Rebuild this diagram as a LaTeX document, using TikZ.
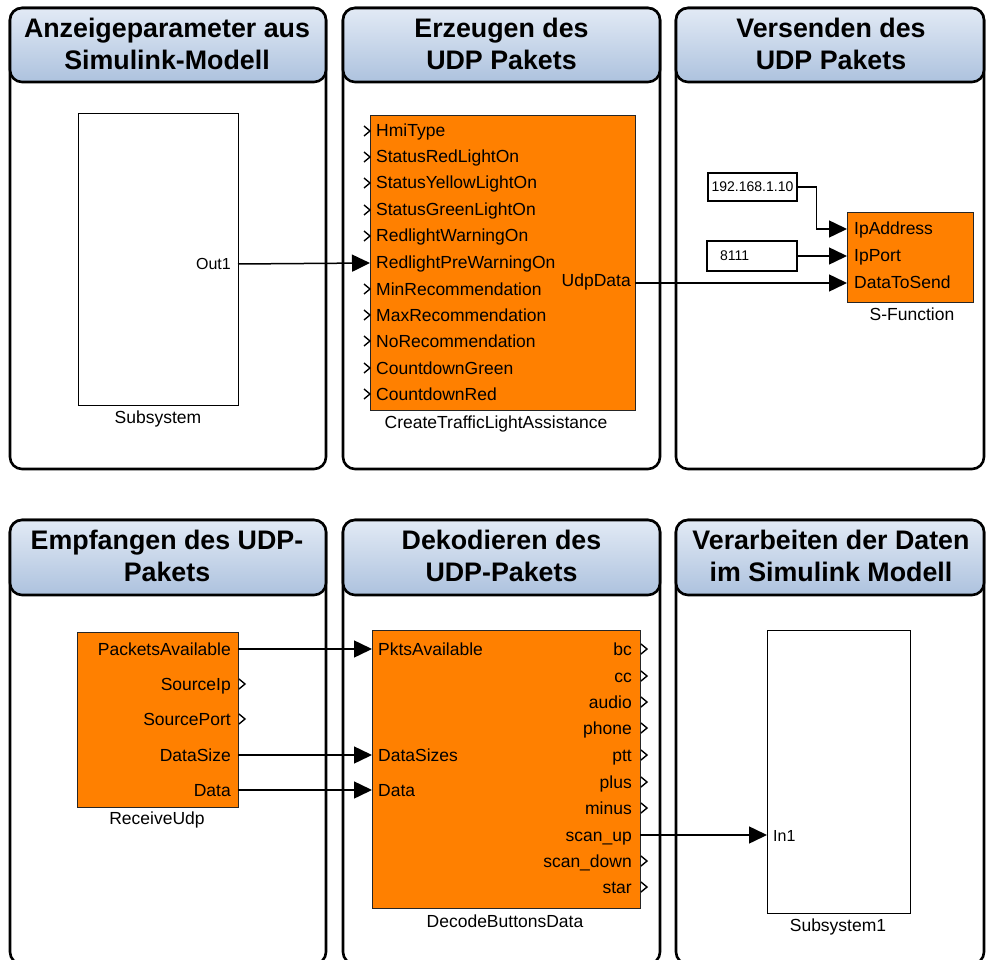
\documentclass[tikz,border=0pt]{standalone}
\usepackage{fontspec}
\setmainfont{Liberation Sans}
\usetikzlibrary{arrows.meta}

\definecolor{blockorange}{HTML}{FF8000}
\definecolor{hdrtop}{HTML}{E2EAF5}
\definecolor{hdrbot}{HTML}{ADC2DE}

\tikzset{
  panel/.style={draw=black, line width=2.6pt, rounded corners=12pt},
  header/.style={draw=black, line width=2.6pt, rounded corners=12pt,
                 top color=hdrtop, bottom color=hdrbot},
  hdrtext/.style={font=\fontsize{26.8}{32}\selectfont\bfseries, align=center, inner sep=0pt},
  sysblock/.style={draw=black, line width=1.3pt, fill=white, inner sep=0pt},
  fnblock/.style={draw=black!85, line width=1.3pt, fill=blockorange, inner sep=0pt},
  port/.style={font=\fontsize{17.5}{20}\selectfont, inner sep=0pt},
  smallport/.style={font=\fontsize{16}{18}\selectfont, inner sep=0pt},
  caption/.style={font=\fontsize{17.5}{20}\selectfont, inner sep=0pt, anchor=base},
  consttext/.style={font=\fontsize{14}{16}\selectfont, inner sep=0pt},
  sig/.style={line width=1.5pt, -{Triangle[length=18pt,width=17pt]}},
  openport/.style={line width=1.4pt},
}

\begin{document}
\begin{tikzpicture}[x=1pt,y=-1pt]
\clip (0,0) rectangle (986,960);

% ---- six panels with shaded title bars
\foreach \xa/\xb in {10/326,343/660,676/984}{
  \draw[panel]  (\xa,8) rectangle (\xb,469);
  \draw[header] (\xa,8) rectangle (\xb,82);
  \draw[panel]  (\xa,520) rectangle (\xb,964);
  \draw[header] (\xa,520) rectangle (\xb,595);
}
\node[hdrtext] (h1) at (167,44)   {Anzeigeparameter aus\\Simulink-Modell};
\node[hdrtext] (h2) at (501.5,44) {Erzeugen des\\UDP Pakets};
\node[hdrtext] (h3) at (831,44)   {Versenden des\\UDP Pakets};
\node[hdrtext] (h4) at (167,556)  {Empfangen des UDP-\\Pakets};
\node[hdrtext] (h5) at (501.5,556){Dekodieren des\\UDP-Pakets};
\node[hdrtext] (h6) at (831,556)  {Verarbeiten der Daten\\im Simulink Modell};

% ---- Subsystem (source of display parameters)
\node[sysblock, anchor=north west, minimum width=160pt, minimum height=292pt] (sub) at (78,113) {};
\coordinate (sub-out) at (238,264);
\node[smallport, anchor=base east] (sub-outlbl) at (231,270) {Out1};
\node[caption] (sub-cap) at (158,423) {Subsystem};

% ---- CreateTrafficLightAssistance
\node[fnblock, anchor=north west, minimum width=265pt, minimum height=295pt] (ctla) at (370,115) {};
\foreach \y/\t [count=\i] in {131/HmiType,157/StatusRedLightOn,183/StatusYellowLightOn,
    210/StatusGreenLightOn,236/RedlightWarningOn,263/RedlightPreWarningOn,289/MinRecommendation,
    315/MaxRecommendation,341/NoRecommendation,368/CountdownGreen,394/CountdownRed}{
  \coordinate (ctla-in\i) at (370,\y);
  \node[port, anchor=base west] (ctla-lbl\i) at (376,\y+6) {\t};
}
\foreach \i in {1,2,3,4,5,7,8,9,10,11}{
  \draw[openport] ([shift={(-6,-5)}]ctla-in\i) -- (ctla-in\i) -- ([shift={(-6,5)}]ctla-in\i);
}
\coordinate (ctla-out) at (635,283);
\node[port, anchor=base east] (ctla-outlbl) at (631,287) {UdpData};
\node[caption] (ctla-cap) at (496,428) {CreateTrafficLightAssistance};

% ---- constants and S-Function
\node[sysblock, consttext, minimum width=89pt, minimum height=28pt] (ip) at (752.5,187) {192.168.1.10};
\node[sysblock, minimum width=90pt, minimum height=30pt] (portc) at (752,256) {};
\node[consttext, anchor=west] (portc-txt) at (720,256) {8111};

\node[fnblock, anchor=north west, minimum width=126pt, minimum height=90pt] (sfun) at (847,212) {};
\foreach \y/\t [count=\i] in {229/IpAddress,256/IpPort,283/DataToSend}{
  \coordinate (sfun-in\i) at (847,\y);
  \node[port, anchor=base west] (sfun-lbl\i) at (854,\y+6) {\t};
}
\node[caption] (sfun-cap) at (912,320) {S-Function};

% ---- ReceiveUdp
\node[fnblock, anchor=north west, minimum width=161pt, minimum height=175pt] (rx) at (77,632) {};
\foreach \y/\t [count=\i] in {649/PacketsAvailable,684/SourceIp,719/SourcePort,755/DataSize,790/Data}{
  \coordinate (rx-out\i) at (238,\y);
  \node[port, anchor=base east] (rx-lbl\i) at (231,\y+6) {\t};
}
\foreach \i in {2,3}{
  \draw[openport] ([shift={(1,-5)}]rx-out\i) -- ([shift={(7,0)}]rx-out\i) -- ([shift={(1,5)}]rx-out\i);
}
\node[caption] (rx-cap) at (157,824) {ReceiveUdp};

% ---- DecodeButtonsData
\node[fnblock, anchor=north west, minimum width=268pt, minimum height=278pt] (dec) at (372,630) {};
\foreach \y/\t [count=\i] in {649/PktsAvailable,755/DataSizes,790/Data}{
  \coordinate (dec-in\i) at (372,\y);
  \node[port, anchor=base west] (dec-lbl\i) at (378,\y+6) {\t};
}
\foreach \y/\t [count=\i] in {649/bc,676/cc,702/audio,728/phone,755/ptt,782/plus,
    808/minus,835/scan\_up,861/scan\_down,887/star}{
  \coordinate (dec-out\i) at (640,\y);
  \node[port, anchor=base east] (dec-olbl\i) at (632,\y+6) {\t};
}
\foreach \i in {1,2,3,4,5,6,7,9,10}{
  \draw[openport] ([shift={(1,-5)}]dec-out\i) -- ([shift={(7,0)}]dec-out\i) -- ([shift={(1,5)}]dec-out\i);
}
\node[caption] (dec-cap) at (505,927) {DecodeButtonsData};

% ---- Subsystem1 (consumer)
\node[sysblock, anchor=north west, minimum width=143pt, minimum height=283pt] (sub1) at (767,630) {};
\coordinate (sub1-in) at (767,835);
\node[smallport, anchor=base west] (sub1-inlbl) at (773,841) {In1};
\node[caption] (sub1-cap) at (838,931) {Subsystem1};

% ---- signal lines
\draw[sig] (sub-out) -- (ctla-in6);
\draw[sig] (ip.east) -- ++(19,0) |- (sfun-in1);
\draw[sig] (portc.east) -- (sfun-in2);
\draw[sig] (ctla-out) -- (sfun-in3);
\draw[sig] (rx-out1) -- (dec-in1);
\draw[sig] (rx-out4) -- (dec-in2);
\draw[sig] (rx-out5) -- (dec-in3);
\draw[sig] (dec-out8) -- (sub1-in);
\end{tikzpicture}
\end{document}
